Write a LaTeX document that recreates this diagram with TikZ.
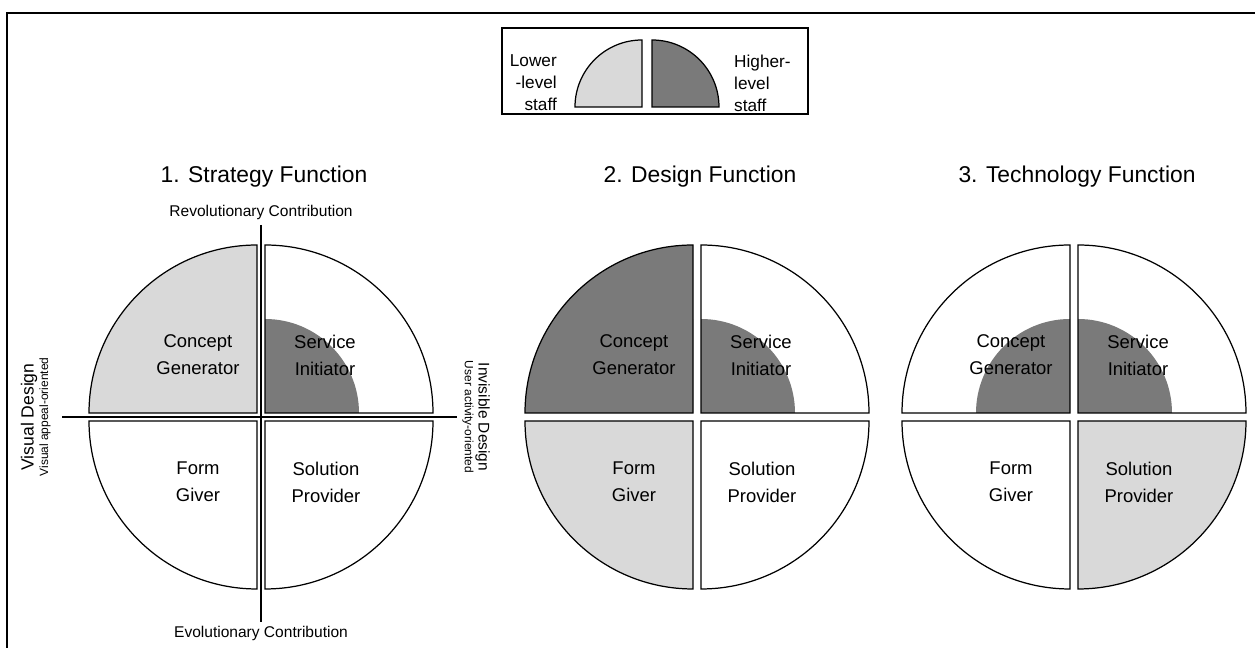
\documentclass[tikz,border=0pt]{standalone}
\usepackage{fontspec}
\setmainfont{Liberation Sans}
\usetikzlibrary{positioning}
\definecolor{lowgray}{RGB}{217,217,217}
\definecolor{highgray}{RGB}{122,122,122}
\tikzset{
  quad/.style={draw=black,line width=0.7pt},
  role/.style={align=center,font=\fontsize{10.5}{15.3}\selectfont},
  functitle/.style={font=\fontsize{13}{16}\selectfont},
  axislab/.style={inner sep=1pt,font=\fontsize{8.85}{10}\selectfont},
  sidelab/.style={inner sep=0.5pt},
  legtext/.style={font=\fontsize{9.8}{12.5}\selectfont},
  axisline/.style={line width=0.8pt}
}
\newcommand{\quadsector}[5]{%
  \fill[fill=#4] (#1) -- ++(#2:168) arc[start angle=#2,end angle=#3,radius=168] -- cycle;
  \fill[fill=#5] (#1) -- ++(#2:94) arc[start angle=#2,end angle=#3,radius=94] -- cycle;
  \draw[quad] (#1) -- ++(#2:168) arc[start angle=#2,end angle=#3,radius=168] -- cycle;}

\begin{document}
\begin{tikzpicture}[x=0.02cm,y=0.02cm]
  \useasboundingbox (0,0) rectangle (1255,648);
  \draw[line width=1.1pt] (7,0) -- (7,635) -- (1255,635);
  \draw[line width=1pt] (502,534) rectangle (808,620);
  \filldraw[quad,fill=lowgray] (642,541) -- ++(-67,0) arc[start angle=180,end angle=90,radius=67] -- cycle;
  \filldraw[quad,fill=highgray] (652,541) -- ++(67,0) arc[start angle=0,end angle=90,radius=67] -- cycle;
  \node[legtext,align=right,anchor=east] (lower) at (563,565) {Lower\\-level\\staff};
  \node[legtext,align=left,anchor=west] (higher) at (728,565) {Higher-\\level\\staff};
  \foreach \cx/\ctl/\cbl/\cbr/\itl/\i/\name in {261/lowgray/white/white/lowgray/1/1. Strategy Function,
      697/highgray/lowgray/white/highgray/2/2. Design Function,
      1074/white/white/lowgray/highgray/3/3. Technology Function}{
    \quadsector{\cx-4,235}{180}{90}{\ctl}{\itl}
    \quadsector{\cx+4,235}{0}{90}{white}{highgray}
    \quadsector{\cx-4,227}{180}{270}{\cbl}{\cbl}
    \quadsector{\cx+4,227}{0}{-90}{\cbr}{\cbr}
    \node[functitle] (title\i) at (\cx+3,471) {\name};
    \node[role] (cg\i) at (\cx-63,293) {Concept\\Generator};
    \node[role] (si\i) at (\cx+64,293) {Service\\Initiator};
    \node[role] (fg\i) at (\cx-63,166) {Form\\Giver};
    \node[role] (sp\i) at (\cx+65,166) {Solution\\Provider};
  }
  \node[axislab,anchor=south,outer sep=2.2pt] (revo) at (261,423) {Revolutionary Contribution};
  \node[axislab,anchor=north,outer sep=1.5pt] (evo) at (261,26) {Evolutionary Contribution};
  \draw[axisline] (revo.south) -- (evo.north);
  \node[sidelab,rotate=90,anchor=south,outer sep=6pt,font=\fontsize{6.8}{8}\selectfont] (visualsub) at (62,231) {Visual appeal-oriented};
  \node[sidelab,rotate=90,anchor=south,font=\fontsize{10}{12}\selectfont] (visual) at ([xshift=6pt]visualsub.north) {Visual Design};
  \node[sidelab,rotate=-90,anchor=south,outer sep=2.5pt,font=\fontsize{6.8}{8}\selectfont] (invisiblesub) at (457,231) {User activity-oriented};
  \node[sidelab,rotate=-90,anchor=south,font=\fontsize{8.8}{10}\selectfont] (invisible) at ([xshift=-2.5pt]invisiblesub.north) {Invisible Design};
  \draw[axisline] (visualsub.south) -- (invisiblesub.south);
\end{tikzpicture}
\end{document}
